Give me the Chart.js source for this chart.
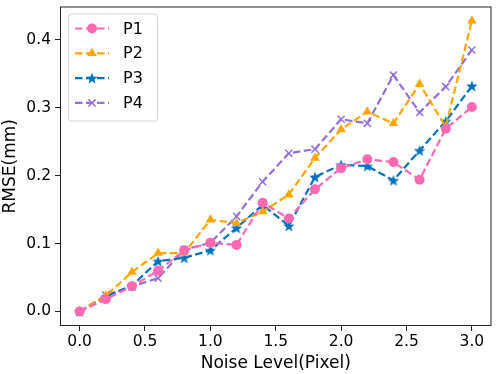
<!DOCTYPE html>
<html>
<head>
<meta charset="utf-8">
<script src="https://cdn.jsdelivr.net/npm/chart.js@4"></script>
<style>
html,body{margin:0;padding:0;background:#fff;}
#wrap{width:498px;height:374px;}
</style>
</head>
<body>
<div id="wrap"><canvas id="c" width="498" height="374"></canvas></div>
<script>
const noise=[0,0.2,0.4,0.6,0.8,1.0,1.2,1.4,1.6,1.8,2.0,2.2,2.4,2.6,2.8,3.0];
const p1=[0,0.018,0.037,0.060,0.090,0.101,0.098,0.160,0.137,0.180,0.211,0.224,0.220,0.194,0.269,0.301];
const p2=[0,0.023,0.058,0.086,0.086,0.135,0.130,0.147,0.172,0.226,0.268,0.294,0.277,0.335,0.272,0.428];
const p3=[0,0.022,0.038,0.074,0.079,0.090,0.123,0.157,0.126,0.198,0.216,0.214,0.193,0.237,0.280,0.332];
const p4=[0,0.024,0.037,0.049,0.091,0.101,0.140,0.191,0.233,0.239,0.283,0.277,0.348,0.293,0.331,0.385];
const seriesNames=["P1","P2","P3","P4"];
const xTicks=[0,0.5,1.0,1.5,2.0,2.5,3.0];
const yTicks=[0,0.1,0.2,0.3,0.4];

const FONT="'DejaVu Sans', sans-serif";

// filled 5-point star like matplotlib '*'
function starCanvas(color,r){
let cv=document.createElement('canvas');
let s=Math.ceil(r*2+2);
cv.width=s;cv.height=s;
let g=cv.getContext('2d');
g.fillStyle=color;
g.beginPath();
for(let i=0;i<10;i++){
let rad=(i%2===0)?r:r*0.42;
let a=-Math.PI/2+i*Math.PI/5;
let x=s/2+rad*Math.cos(a),y=s/2+rad*Math.sin(a)+r*0.1;
if(i===0)g.moveTo(x,y);else g.lineTo(x,y);
}
g.closePath();g.fill();
return cv;
}

const colors=["#ff69b4","#ffa500","#0072bd","#9370db"];
const styles=["circle","triangle",starCanvas(colors[2],6),"crossRot"];
const radii=[5,5.5,6,5];
const values=[p1,p2,p3,p4];

const datasets=values.map((v,i)=>({
label:seriesNames[i],
data:v.map((y,k)=>({x:noise[k],y:y})),
borderColor:colors[i],
backgroundColor:colors[i],
borderWidth:2.2,
borderDash:[7.5,3.5],
pointStyle:styles[i],
pointRadius:radii[i],
pointBorderWidth:i===3?1.5:0,
pointBorderColor:colors[i],
pointHoverRadius:radii[i],
fill:false,
tension:0
}));

// box around plot + matplotlib style legend
const frame={
id:'frame',
afterDraw(chart){
const ctx=chart.ctx,a=chart.chartArea;
ctx.save();
ctx.strokeStyle='#222';
ctx.lineWidth=1;
ctx.strokeRect(a.left+0.5,a.top+0.5,a.right-a.left-1,a.bottom-a.top-1);
// legend
let lx=a.left+8,ly=a.top+7,lw=89,lh=107;
ctx.fillStyle='rgba(255,255,255,0.8)';
ctx.strokeStyle='#d6d6d6';
ctx.lineWidth=1;
ctx.beginPath();
ctx.roundRect(lx+0.5,ly+0.5,lw,lh,3);
ctx.fill();ctx.stroke();
chart.data.datasets.forEach((ds,i)=>{
let yy=ly+15+i*24.8;
ctx.strokeStyle=ds.borderColor;
ctx.lineWidth=2.2;
ctx.setLineDash([7.5,3.5]);
ctx.beginPath();
ctx.moveTo(lx+7,yy);ctx.lineTo(lx+41,yy);
ctx.stroke();
ctx.setLineDash([]);
ctx.fillStyle=ds.backgroundColor;
ctx.strokeStyle=ds.borderColor;
ctx.lineWidth=ds.pointBorderWidth;
Chart.helpers.drawPoint(ctx,{pointStyle:ds.pointStyle,rotation:0,radius:ds.pointRadius,borderWidth:ds.pointBorderWidth},lx+24,yy);
ctx.fillStyle='#000';
ctx.font="16px "+FONT;
ctx.textBaseline='middle';
ctx.textAlign='left';
ctx.fillText(ds.label,lx+55,yy+1);
});
ctx.restore();
}
};

new Chart(document.getElementById('c'),{
type:'line',
data:{datasets:datasets},
options:{
responsive:false,
animation:false,
events:[],
layout:{padding:{top:3,right:3,left:0,bottom:0}},
plugins:{legend:{display:false},tooltip:{enabled:false}},
scales:{
x:{
type:'linear',
min:-0.15,max:3.15,
afterBuildTicks:ax=>{ax.ticks=xTicks.map(v=>({value:v}));},
afterFit:ax=>{ax.height=48;ax.paddingLeft=0;ax.paddingRight=0;},
ticks:{color:'#000',font:{family:FONT,size:15.5},callback:v=>v.toFixed(1),maxRotation:0,padding:2},
grid:{display:true,drawOnChartArea:false,tickLength:5,color:'#222',tickColor:'#222'},
border:{display:false},
title:{display:true,text:'Noise Level(Pixel)',color:'#000',font:{family:FONT,size:17},padding:{top:0,bottom:0}}
},
y:{
min:-0.0214,max:0.449,
afterBuildTicks:ax=>{ax.ticks=yTicks.map(v=>({value:v}));},
afterFit:ax=>{ax.width=60;ax.paddingTop=0;ax.paddingBottom=0;},
ticks:{color:'#000',font:{family:FONT,size:15.5},callback:v=>v.toFixed(1),padding:4},
grid:{display:true,drawOnChartArea:false,tickLength:5,color:'#222',tickColor:'#222'},
border:{display:false},
title:{display:true,text:'RMSE(mm)',color:'#000',font:{family:FONT,size:17},padding:{top:0,bottom:0}}
}
}
},
plugins:[frame]
});
</script>
</body>
</html>
